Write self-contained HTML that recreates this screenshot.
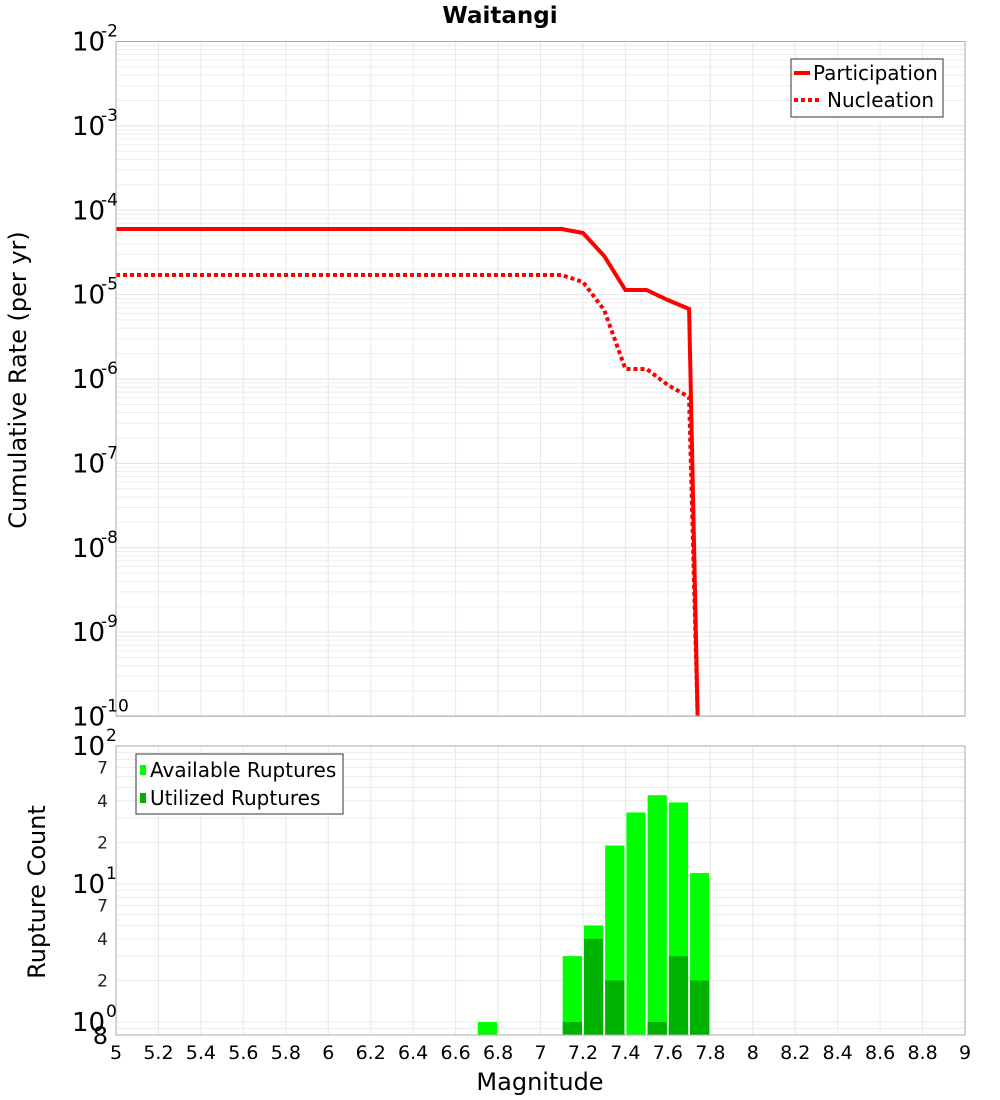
<!DOCTYPE html>
<html><head><meta charset="utf-8"><style>
body{margin:0;background:#fff}
svg{display:block;font-family:"DejaVu Sans","Liberation Sans",sans-serif}
</style></head><body>
<svg id="s" width="1000" height="1100" xmlns="http://www.w3.org/2000/svg"></svg>
<script>
const s=document.getElementById('s');let h='';
const X=m=>116+(m-5)*212.25;
const L=116,R=965,T1=41.5,B1=716,D1=84.375;
const T2=746,B2=1035,D2=138,Y1=1022;
h+='<text x="500" y="23" text-anchor="middle" font-size="23" font-weight="bold">Waitangi</text>';
for(let d=0;d<8;d++){const y0=T1+d*D1;
 for(let k=2;k<=9;k++){const y=y0+D1-Math.log10(k)*D1;h+=`<line x1="${L}" x2="${R}" y1="${y}" y2="${y}" stroke="#ededed"/>`;}}
for(let d=0;d<=8;d++){const y=T1+d*D1;h+=`<line x1="${L}" x2="${R}" y1="${y}" y2="${y}" stroke="#e3e3e3"/>`;}
for(let m=5;m<=9.001;m+=0.2){h+=`<line x1="${X(m)}" x2="${X(m)}" y1="${T1}" y2="${B1}" stroke="#e8e8e8"/><line x1="${X(m)}" x2="${X(m)}" y1="${T2}" y2="${B2}" stroke="#e8e8e8"/>`;}
[1,2,3,4,5,6,7,8,9,10,20,30,40,50,60,70,80,90,100].forEach(v=>{const y=Y1-Math.log10(v)*D2;h+=`<line x1="${L}" x2="${R}" y1="${y}" y2="${y}" stroke="#ebebeb"/>`;});
h+=`<line x1="${L}" x2="${R}" y1="${Y1-Math.log10(0.9)*D2}" y2="${Y1-Math.log10(0.9)*D2}" stroke="#ebebeb"/>`;
const P=[[5,229],[7.1,229],[7.2,233],[7.3,256],[7.4,290],[7.5,290],[7.6,300],[7.7,309],[7.74,716]];
const N=[[5,275],[7.1,275],[7.2,282],[7.3,310],[7.4,369],[7.5,369],[7.6,385],[7.7,397],[7.74,716]];
const pts=a=>a.map(p=>X(p[0]).toFixed(1)+','+p[1]).join(' ');
h+=`<polyline points="${pts(N)}" fill="none" stroke="#f00" stroke-width="4" stroke-dasharray="4,3"/>`;
h+=`<polyline points="${pts(P)}" fill="none" stroke="#f00" stroke-width="4"/>`;
const bars=[[6.7,1,0],[7.1,3,1],[7.2,5,4],[7.3,19,2],[7.4,33,0],[7.5,44,1],[7.6,39,3],[7.7,12,2]];
bars.forEach(b=>{const x=X(b[0])+1,w=212.25*0.1-2;const yt=Y1-Math.log10(b[1])*D2;
 h+=`<rect x="${x}" y="${yt}" width="${w}" height="${B2-yt}" fill="#00ff00"/>`;
 if(b[2]>0){const yd=Y1-Math.log10(b[2])*D2;h+=`<rect x="${x}" y="${yd}" width="${w}" height="${B2-yd}" fill="#00b200"/>`;}});
h+=`<rect x="${L}" y="${T1}" width="${R-L}" height="${B1-T1}" fill="none" stroke="#aaa"/>`;
h+=`<rect x="${L}" y="${T2}" width="${R-L}" height="${B2-T2}" fill="none" stroke="#aaa"/>`;
for(let d=0;d<=8;d++){const y=T1+d*D1;h+=`<text x="72" y="${y+9}" font-size="26">10</text><text x="101" y="${y-5}" font-size="17">-${d+2}</text>`;}
[[100,'2'],[10,'1'],[1,'0']].forEach(([v,e])=>{const y=Y1-Math.log10(v)*D2;h+=`<text x="72" y="${y+9}" font-size="26">10</text><text x="106" y="${y-5}" font-size="17">${e}</text>`;});
[[70,'7'],[40,'4'],[20,'2'],[7,'7'],[4,'4'],[2,'2']].forEach(([v,t])=>{const y=Y1-Math.log10(v)*D2;h+=`<text x="108" y="${y+6}" font-size="17" text-anchor="end" fill="#222">${t}</text>`;});
h+=`<text x="108" y="${B2+9}" font-size="24" text-anchor="end">8</text>`;
for(let i=0;i<=20;i++){const m=5+i*0.2;let t=(Math.round(m*10)/10).toString();h+=`<text x="${X(m)}" y="1059" font-size="19" text-anchor="middle">${t}</text>`;}
h+='<text x="540" y="1090" font-size="24" text-anchor="middle">Magnitude</text>';
h+='<text transform="translate(26,380) rotate(-90)" font-size="24" text-anchor="middle">Cumulative Rate (per yr)</text>';
h+='<text transform="translate(45,892) rotate(-90)" font-size="24" text-anchor="middle">Rupture Count</text>';
h+='<rect x="791" y="59" width="152" height="58" fill="#fff" stroke="#333"/>';
h+='<line x1="794" x2="810" y1="73" y2="73" stroke="#f00" stroke-width="4"/><text x="813" y="80" font-size="20">Participation</text>';
h+='<line x1="794" x2="821" y1="100" y2="100" stroke="#f00" stroke-width="4" stroke-dasharray="4,3"/><text x="827" y="107" font-size="20">Nucleation</text>';
h+='<rect x="136" y="754" width="207" height="60" fill="#fff" stroke="#333"/>';
h+='<rect x="140" y="765" width="6" height="10" fill="#00ff00"/><text x="150" y="777" font-size="20">Available Ruptures</text>';
h+='<rect x="140" y="793" width="6" height="10" fill="#00b200"/><text x="150" y="805" font-size="20">Utilized Ruptures</text>';
s.innerHTML=h;
</script>
</body></html>
